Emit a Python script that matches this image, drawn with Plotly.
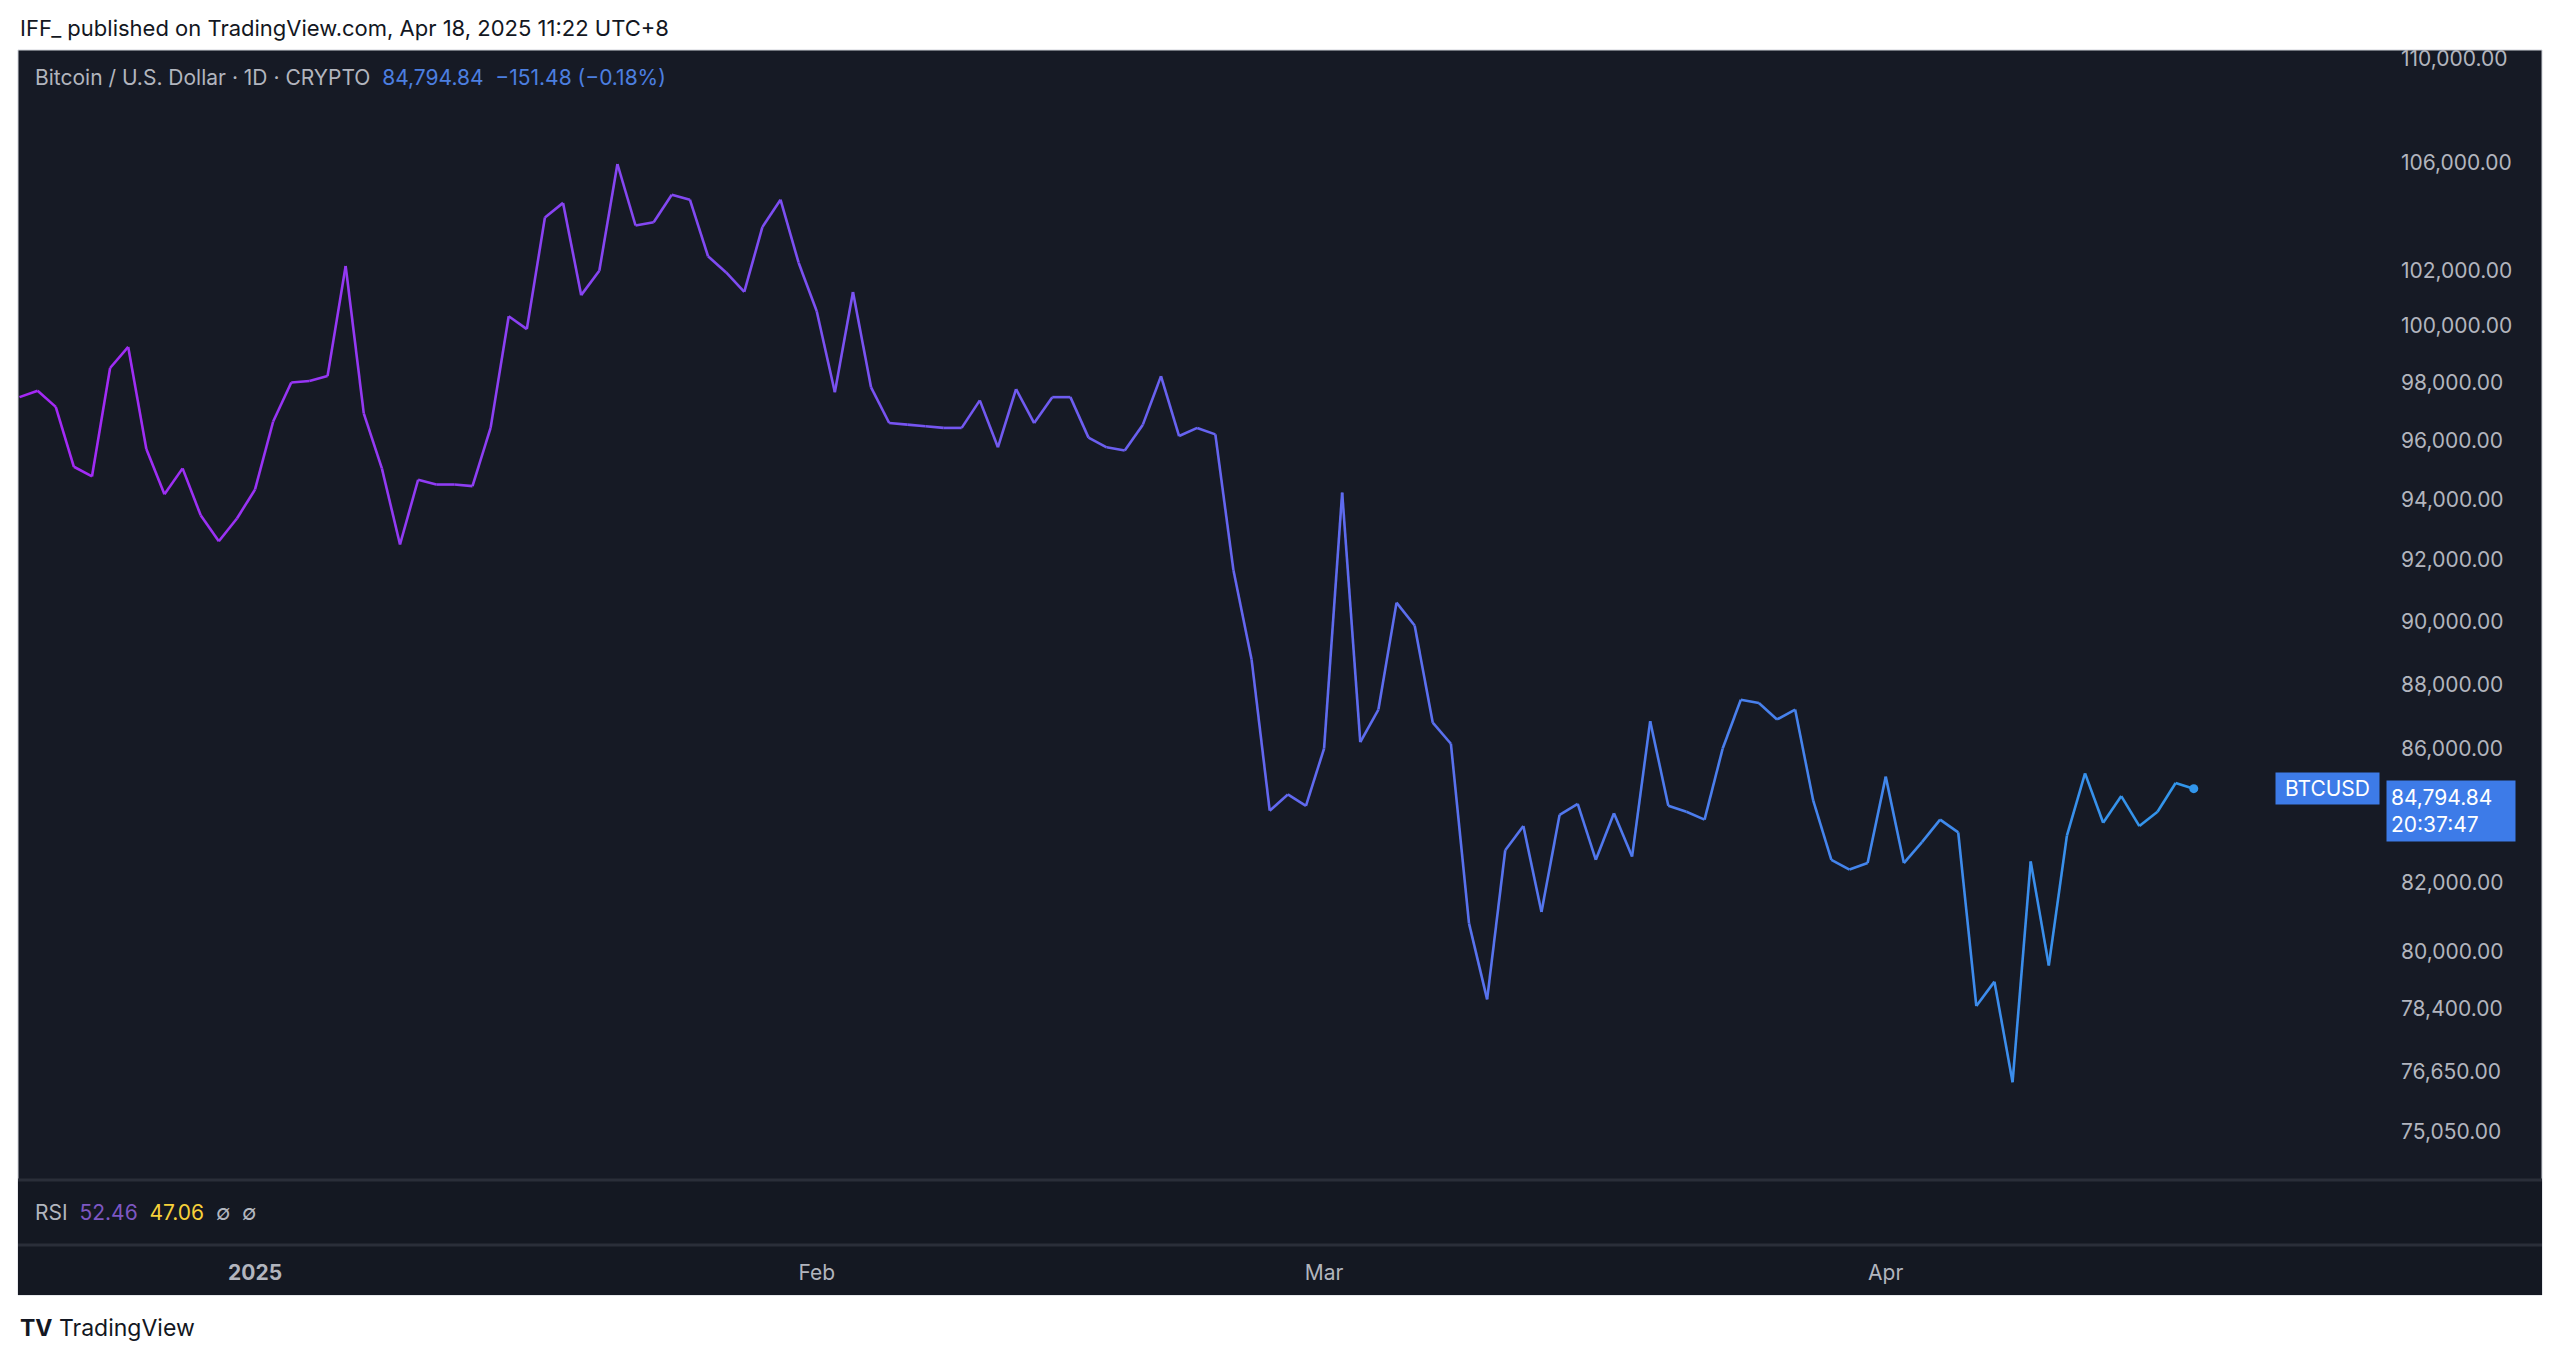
import plotly.graph_objects as go
import pandas as pd
import math

closes = [97492, 97717, 97155, 95103, 94775, 98510, 99252, 95709, 94174, 95048,
          93472, 92612, 93365, 94337, 96649, 98000, 98057, 98226, 102156, 96932,
          95048, 92505, 94664, 94503, 94503, 94449, 96429, 100346, 99884, 103942,
          104481, 101102, 101982, 105939, 103642, 103761, 104783, 104601, 102512, 101922,
          101217, 103583, 104601, 102276, 100520, 97661, 101217, 97830, 96597, 96541,
          96486, 96429, 96429, 97380, 95765, 97774, 96597, 97492, 97492, 96096,
          95765, 95654, 96541, 98226, 96151, 96429, 96207, 91656, 88791, 84133,
          84620, 84279, 86016, 94230, 86214, 87220, 90608, 89872, 86813, 86164,
          80819, 78661, 82955, 83672, 81150, 84007, 84334, 82672, 84055, 82766,
          86860, 84279, 84102, 83866, 86016, 87524, 87423, 86912, 87220, 84431,
          82672, 82386, 82577, 85160, 82577, 83196, 83866, 83484, 78475, 79159,
          76371, 82624, 79616, 83388, 85258, 83770, 84571, 83672, 84102, 84966,
          84794.84]
dates = pd.date_range(end="2025-04-18", periods=len(closes), freq="D")
price_ticks = [110000, 106000, 102000, 100000, 98000, 96000, 94000, 92000, 90000,
               88000, 86000, 82000, 80000, 78400, 76650, 75050]
month_ticks = ["2025-01-01", "2025-02-01", "2025-03-01", "2025-04-01"]
month_labels = ["<b>2025</b>", "Feb", "Mar", "Apr"]

OFF = 8  # page body margin
W, H = 2560 - OFF, 1360 - OFF
# screen-space plot area
SL, SR, ST, SB = 18, 2384, 50, 1180
L, T = SL - OFF, ST - OFF
R, B = W - (SR - OFF), H - (SB - OFF)

c0 = (165, 40, 245)
c1 = (50, 150, 235)
fig = go.Figure()
n = len(closes)
for i in range(n - 1):
    t = i / (n - 2)
    col = "rgb(%d,%d,%d)" % tuple(round(a + (b - a) * t) for a, b in zip(c0, c1))
    fig.add_trace(go.Scatter(x=dates[i:i + 2], y=closes[i:i + 2], mode="lines",
                             line=dict(color=col, width=2.6), hoverinfo="skip",
                             showlegend=False))
fig.add_trace(go.Scatter(x=[dates[-1]], y=[closes[-1]], mode="markers",
                         marker=dict(color="rgb(50,150,235)", size=9), showlegend=False))

bg = "#161a25"
fig.update_layout(
    width=W, height=H, paper_bgcolor="white", plot_bgcolor=bg,
    margin=dict(l=L, r=R, t=T, b=B),
    font=dict(family="Inter, Roboto, sans-serif", size=21, color="#b2b5be"),
    showlegend=False,
    xaxis=dict(range=["2024-12-18T22:00", "2025-04-28T12:00"],
               tickvals=month_ticks, ticktext=month_labels, ticks="",
               showgrid=False, zeroline=False, showline=False,
               ticklabelstandoff=78, tickfont=dict(size=21, color="#b2b5be")),
    yaxis=dict(type="log", side="right", range=[4.8678, 5.0427],
               tickvals=price_ticks, ticktext=[f"{v:,.2f}" for v in price_ticks],
               showgrid=False, zeroline=False, showline=False, ticks="",
               ticklabelstandoff=16, tickfont=dict(size=21, color="#b2b5be")),
)

def fx(p):  # screen px -> plot-area fraction
    return (p - SL) / (SR - SL)
def fy(p):
    return (SB - p) / (SB - ST)

shapes = [
    dict(type="rect", xref="paper", yref="paper", layer="below",
         x0=fx(18), x1=fx(2542), y0=fy(1295), y1=fy(50), fillcolor=bg,
         line=dict(color="#d0d3da", width=1)),
    dict(type="rect", xref="paper", yref="paper", layer="below",
         x0=fx(18), x1=fx(2542), y0=fy(1295), y1=fy(1180), fillcolor="#141822",
         line_width=0),
    dict(type="line", xref="paper", yref="paper", x0=fx(18), x1=fx(2542),
         y0=fy(1180), y1=fy(1180), line=dict(color="#2a2e39", width=3)),
    dict(type="line", xref="paper", yref="paper", x0=fx(18), x1=fx(2542),
         y0=fy(1245), y1=fy(1245), line=dict(color="#2a2e39", width=3)),
]
fig.update_layout(shapes=shapes)

last = math.log10(closes[-1])
ann = [
    dict(x=fx(18), y=fy(28), xanchor="left", yanchor="middle",
         text="IFF_ published on TradingView.com, Apr 18, 2025 11:22 UTC+8",
         font=dict(size=22, color="#131722")),
    dict(x=fx(33), y=fy(78), xanchor="left", yanchor="middle",
         text="Bitcoin / U.S. Dollar · 1D · CRYPTO  <span style='color:#4c7fe0'>84,794.84  −151.48 (−0.18%)</span>",
         font=dict(size=21, color="#b2b5be")),
    dict(x=fx(33), y=fy(1212), xanchor="left", yanchor="middle",
         text="RSI  <span style='color:#7e57c2'>52.46</span>  <span style='color:#f7d13a'>47.06</span>  ∅  ∅",
         font=dict(size=21, color="#b2b5be")),
    dict(x=fx(18), y=fy(1328), xanchor="left", yanchor="middle",
         text="<b>TV</b> TradingView", font=dict(size=23, color="#131722")),
    dict(x=fx(2380), yref="y", y=last, xanchor="right", yanchor="middle",
         text=" BTCUSD ", bgcolor="#3d7be8", font=dict(size=21, color="white"), borderpad=3),
    dict(x=fx(2386), yref="y", y=last - 0.0035, xanchor="left", yanchor="middle",
         text="84,794.84<br>20:37:47", align="left",
         bgcolor="#3d7be8", font=dict(size=21, color="white"), borderpad=4, width=120),
]
for a in ann:
    a.setdefault("xref", "paper")
    a.setdefault("yref", "paper")
    a["showarrow"] = False
fig.update_layout(annotations=ann)
fig.write_html("out.html")
